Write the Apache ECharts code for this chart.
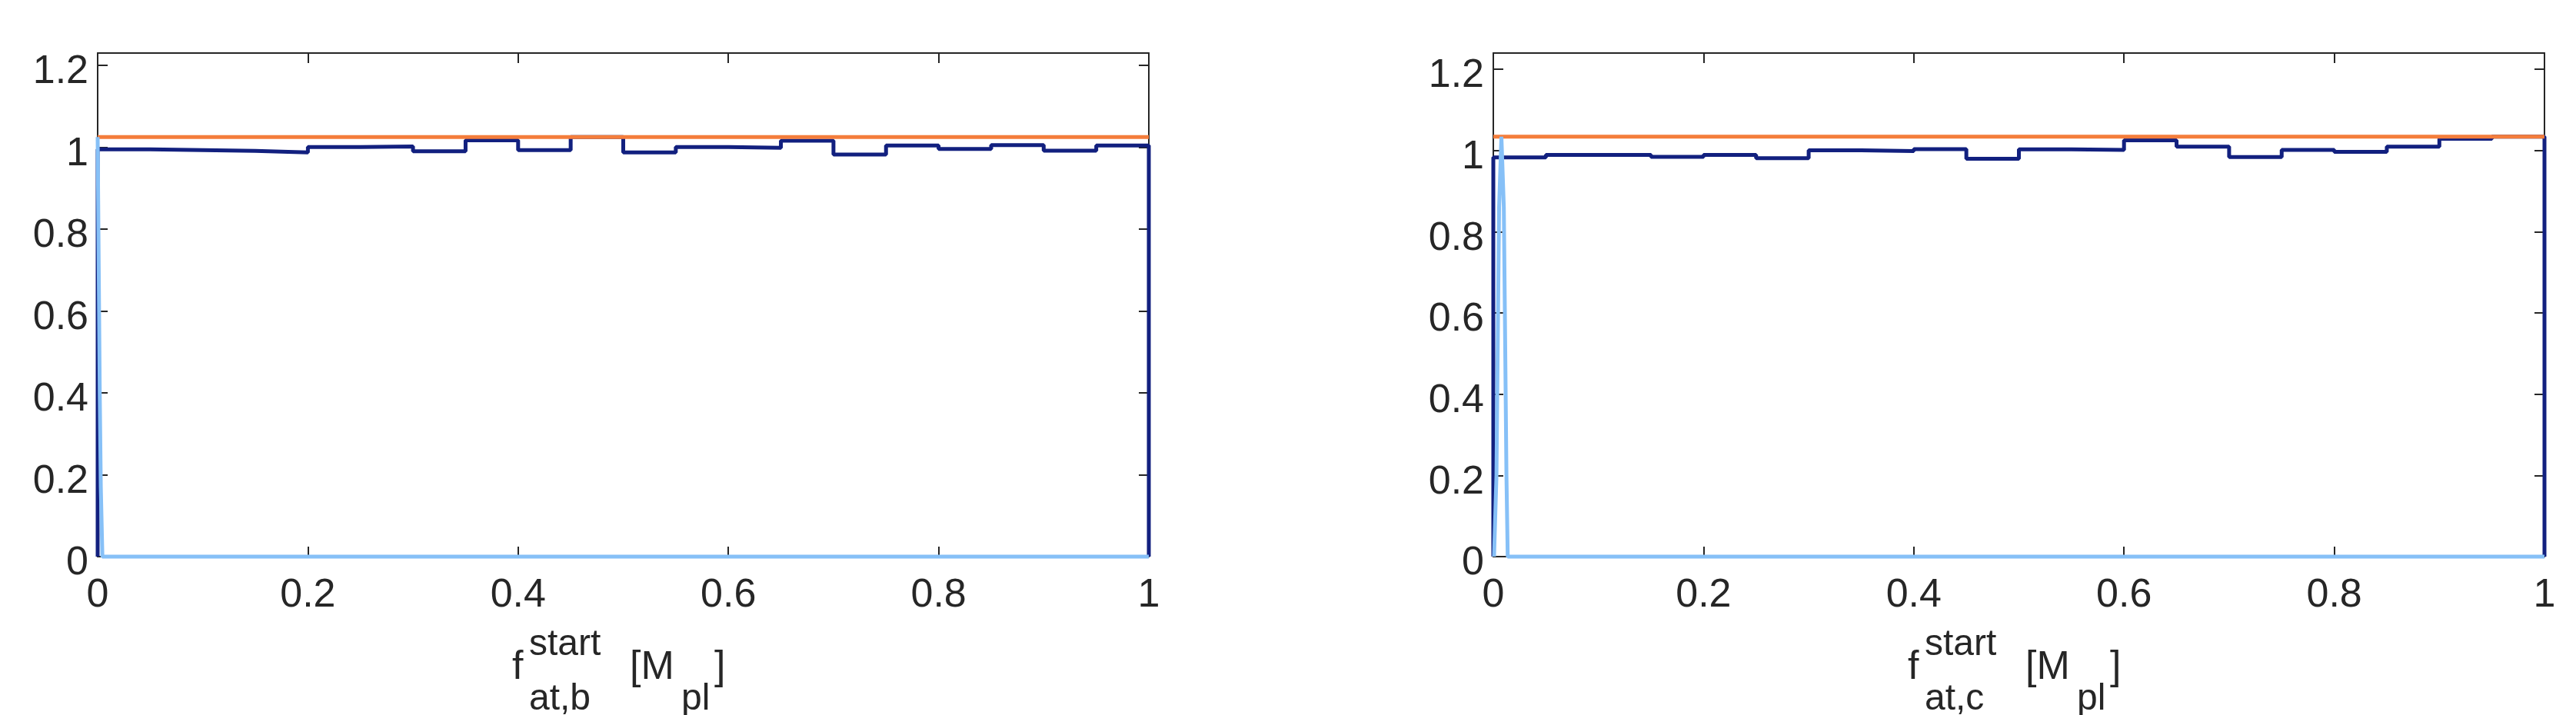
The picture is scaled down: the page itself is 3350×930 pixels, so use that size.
<!DOCTYPE html>
<html>
<head>
<meta charset="utf-8">
<title>f_at start histograms</title>
<script src="https://cdn.jsdelivr.net/npm/echarts@6/dist/echarts.min.js"></script>
<style>
  html, body { margin: 0; padding: 0; background: #fff; }
  #myChart { width: 3350px; height: 930px; }
</style>
</head>
<body>
<div id="myChart"></div>
<script>
// bin edges of the histograms
var binEdges = [0, 0.05, 0.1, 0.15, 0.2, 0.25, 0.3, 0.35, 0.4, 0.45, 0.5,
                0.55, 0.6, 0.65, 0.7, 0.75, 0.8, 0.85, 0.9, 0.95, 1];
// normalised counts per bin (left: f_at,b, right: f_at,c)
var histB = [0.995, 0.993, 0.991, 0.9875, 1.0003, 1.002, 0.990, 1.017, 0.993, 1.025,
             0.9875, 1.0003, 0.9987, 1.016, 0.982, 1.004, 0.9956, 1.005, 0.9915, 1.004];
var histC = [0.983, 0.989, 0.989, 0.9845, 0.989, 0.981, 1.0006, 0.9987, 1.0035, 0.9795,
             1.003, 1.0016, 1.025, 1.0095, 0.984, 1.0016, 0.9965, 1.0095, 1.029, 1.034];
// flat prior level
var priorB = 1.025;
var priorC = 1.034;
// narrow spike near zero
var spikeBx = [0, 0.0005, 0.002, 0.003, 0.0045, 1];
var spikeBy = [1.025, 0.87, 0.40, 0.17, 0, 0];
var spikeCx = [0.0007, 0.003, 0.0045, 0.0055, 0.0077, 0.0100, 0.0110, 0.0125, 0.0137, 1];
var spikeCy = [0, 0.2, 0.6, 0.86, 1.034, 0.86, 0.6, 0.2, 0, 0];
// axes
var xTicks = [0, 0.2, 0.4, 0.6, 0.8, 1];
var yMaxB = 1.23;
var yMaxC = 1.24;

var axisColor = '#262626';
var navy = '#12207f';
var orange = '#f47d3b';
var light = '#86c0f7';
var font = '"Liberation Sans", Arial, Helvetica, sans-serif';

function stepData(vals) {
    var pts = [[binEdges[0], 0]];
    for (var i = 0; i < vals.length; i++) pts.push([binEdges[i], vals[i]]);
    pts.push([binEdges[binEdges.length - 1], 0]);
    return pts;
}
function pairs(xs, ys) {
    return xs.map(function (x, i) { return [x, ys[i]]; });
}

var grids = [
    { left: 127, top: 69, width: 1367, height: 655 },
    { left: 1942, top: 69, width: 1367, height: 655 }
];

var lineCfg = { onZero: false, lineStyle: { color: axisColor, width: 2 } };
var tickCfg = { inside: true, length: 13, lineStyle: { color: axisColor, width: 2 } };

function xAxes(g) {
    return [{
        type: 'value', gridIndex: g, min: xTicks[0], max: xTicks[xTicks.length - 1], interval: 0.2,
        position: 'bottom', axisLine: lineCfg, axisTick: tickCfg,
        axisLabel: { margin: 25, fontSize: 52, color: axisColor, fontFamily: font },
        splitLine: { show: false }
    }, {
        type: 'value', gridIndex: g, min: 0, max: 1, interval: 0.2, position: 'top',
        axisLine: lineCfg, axisTick: tickCfg,
        axisLabel: { show: false },
        splitLine: { show: false }
    }];
}
function yAxes(g, ymax) {
    return [{
        type: 'value', gridIndex: g, min: 0, max: ymax, interval: 0.2, position: 'left',
        axisLine: lineCfg, axisTick: tickCfg,
        axisLabel: { margin: 12, fontSize: 52, color: axisColor, fontFamily: font,
                     showMaxLabel: false, verticalAlign: 'top', lineHeight: 18 },
        splitLine: { show: false }
    }, {
        type: 'value', gridIndex: g, min: 0, max: ymax, interval: 0.2, position: 'right',
        axisLine: lineCfg, axisTick: tickCfg,
        axisLabel: { show: false },
        splitLine: { show: false }
    }];
}

function series(g, hist, prior, sx, sy) {
    var base = { type: 'line', xAxisIndex: g * 2, yAxisIndex: g * 2, showSymbol: false,
                 symbol: 'none', clip: false, animation: false, silent: true };
    return [
        Object.assign({}, base, { step: 'end', data: stepData(hist), z: 2,
            lineStyle: { color: navy, width: 5 } }),
        Object.assign({}, base, { data: [[0, prior], [1, prior]], z: 3,
            lineStyle: { color: orange, width: 5 } }),
        Object.assign({}, base, { data: pairs(sx, sy), z: 4,
            lineStyle: { color: light, width: 5 } })
    ];
}

// x-axis title: f^start_{at,?}  [M_pl]
function axisTitle(dx, sub) {
    var t = function (text, x, y, size) {
        return { type: 'text', x: x + dx, y: y, silent: true,
                 style: { text: text, fill: axisColor, font: size + 'px ' + font,
                          align: 'left', verticalAlign: 'middle' } };
    };
    return [
        t('f', 666, 869, 52),
        t('start', 688, 839, 48),
        t(sub, 688, 910, 48),
        t('[M', 819, 869, 52),
        t('pl', 886, 910, 48),
        t(']', 929, 869, 52)
    ];
}

var option = {
    backgroundColor: '#fff',
    animation: false,
    grid: grids,
    xAxis: xAxes(0).concat(xAxes(1)),
    yAxis: yAxes(0, yMaxB).concat(yAxes(1, yMaxC)),
    series: series(0, histB, priorB, spikeBx, spikeBy)
        .concat(series(1, histC, priorC, spikeCx, spikeCy)),
    graphic: axisTitle(0, 'at,b').concat(axisTitle(1815, 'at,c'))
};

var myChart = echarts.init(document.getElementById('myChart'));
myChart.setOption(option);

window.onresize = function () {
    myChart.resize();
};
</script>
</body>
</html>
